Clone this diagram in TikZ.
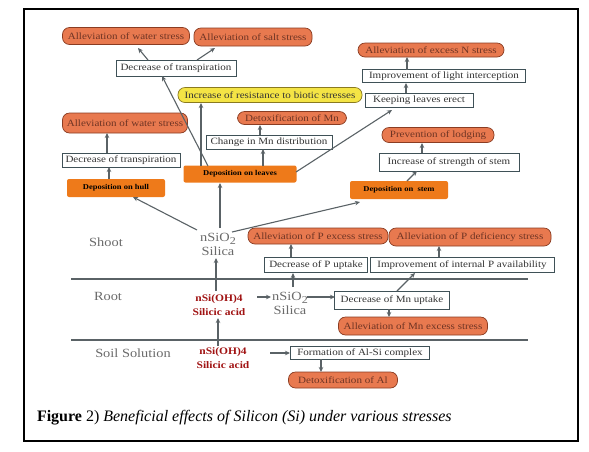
\documentclass[tikz,border=0pt]{standalone}
\usepackage{fontspec}
\setmainfont{Liberation Serif}
\newfontfamily\bxfont{Liberation Serif}[FakeStretch=1.15]
\usetikzlibrary{arrows.meta}
\definecolor{pillfill}{HTML}{E8794F}
\definecolor{pilldraw}{HTML}{8A3C22}
\definecolor{pilltext}{HTML}{6E3424}
\definecolor{depfill}{HTML}{EE7A1A}
\definecolor{yelfill}{HTML}{F4E445}
\definecolor{yeldraw}{HTML}{8A7A20}
\definecolor{boxdraw}{HTML}{3F5157}
\definecolor{boxtext}{HTML}{333333}
\definecolor{arrcol}{HTML}{5A6266}
\definecolor{labcol}{HTML}{6A6A6A}
\definecolor{redtext}{HTML}{A01212}
\begin{document}
\begin{tikzpicture}[x=1pt,y=-1pt,
  every node/.style={inner sep=0pt, outer sep=0pt},
  txt/.style={font=\bxfont\fontsize{9.6}{11}\selectfont},
  pill/.style={txt, draw=pilldraw, fill=pillfill, text=pilltext, line width=0.7pt, rounded corners=7pt},
  ypill/.style={txt, draw=yeldraw, fill=yelfill, text=boxtext, line width=0.7pt, rounded corners=7pt},
  tbox/.style={txt, draw=boxdraw, fill=white, text=boxtext, line width=0.8pt},
  dep/.style={fill=depfill, rounded corners=2pt, font=\bxfont\bfseries\fontsize{7.4}{9}\selectfont, text=black},
  lab/.style={font=\bxfont\fontsize{12.5}{14}\selectfont, text=labcol},
  sil/.style={font=\bxfont\fontsize{12.5}{14}\selectfont, text=labcol, align=center},
  acid/.style={font=\bxfont\bfseries\fontsize{10}{14}\selectfont, text=redtext, align=center},
  arr/.style={draw=arrcol, line width=1.1pt, -{Stealth[length=5pt,width=4.5pt]}},
  sep/.style={draw=arrcol, line width=1.6pt}
]
\useasboundingbox (0,0) rectangle (589,451);
\draw[line width=1.1pt] (24,9) rectangle (578,441);

% separators
\coordinate (l1a) at (71,279); \coordinate (l1b) at (528,279);
\coordinate (l2a) at (71,340); \coordinate (l2b) at (528,340);
\draw[sep] (l1a) -- (l1b);
\draw[sep] (l2a) -- (l2b);

% top-left
\node[pill, minimum width=127pt, minimum height=17pt] (A1) at (126,36) {Alleviation of water stress};
\node[pill, minimum width=118pt, minimum height=18pt] (A2) at (253,37) {Alleviation of salt stress};
\node[tbox, minimum width=120pt, minimum height=16pt] (B1) at (176,68) {Decrease of transpiration};
\node[ypill, minimum width=184pt, minimum height=15pt] (Y) at (270,95) {Increase of resistance to biotic stresses};
\node[pill, minimum width=109pt, minimum height=13pt] (A3) at (292,118) {Detoxification of Mn};
\node[tbox, minimum width=126pt, minimum height=14pt] (B2) at (269,142) {Change in Mn distribution};
\node[pill, minimum width=125pt, minimum height=20pt] (A4) at (125,123) {Alleviation of water stress};
\node[tbox, minimum width=118pt, minimum height=14pt] (B3) at (121,160) {Decrease of transpiration};
\node[dep, minimum width=98pt, minimum height=18pt] (D1) at (116,188) {Deposition on hull};
\node[dep, minimum width=113pt, minimum height=17pt] (D2) at (240,174) {Deposition on leaves};

% top-right
\node[pill, minimum width=146pt, minimum height=14pt] (A5) at (431,50) {Alleviation of excess N stress};
\node[tbox, minimum width=163pt, minimum height=13pt] (B4) at (444,76) {Improvement of light interception};
\node[tbox, minimum width=108pt, minimum height=14pt] (B5) at (419,100) {Keeping leaves erect};
\node[pill, minimum width=112pt, minimum height=15pt] (A6) at (438,135) {Prevention of lodging};
\node[tbox, minimum width=140pt, minimum height=18pt] (B6) at (449,162) {Increase of strength of stem};
\node[dep, minimum width=98pt, minimum height=18pt] (D3) at (399,190) {Deposition on\ \ stem};

% labels
\node[lab] (Lshoot) at (106,242) {Shoot};
\node[lab] (Lroot) at (108,296) {Root};
\node[lab] (Lsoil) at (133,353) {Soil Solution};

% silicon forms
\node[sil] (S1) at (218,244) {nSiO\raisebox{-3pt}{\fontsize{10.5}{11}\selectfont 2}\\Silica};
\node[acid] (R1) at (219,305) {nSi(OH)4\\Silicic acid};
\node[sil] (R2) at (290,303) {nSiO\raisebox{-3pt}{\fontsize{10.5}{11}\selectfont 2}\\Silica};
\node[acid] (So1) at (223,358) {nSi(OH)4\\Silicic acid};

% P / Mn / Al
\node[pill, minimum width=140pt, minimum height=16pt] (A7) at (318,236) {Alleviation of P excess stress};
\node[tbox, minimum width=103pt, minimum height=15pt] (B7) at (316,265) {Decrease of P uptake};
\node[pill, minimum width=162pt, minimum height=18pt] (A8) at (470,237) {Alleviation of P deficiency stress};
\node[tbox, minimum width=184pt, minimum height=15pt] (B8) at (462,265) {Improvement of internal P availability};
\node[tbox, minimum width=115pt, minimum height=18pt] (B9) at (392,300) {Decrease of Mn uptake};
\node[pill, minimum width=149pt, minimum height=18pt] (A9) at (413,326) {Alleviation of Mn excess stress};
\node[tbox, minimum width=139pt, minimum height=13pt] (B10) at (360,353) {Formation of Al-Si complex};
\node[pill, minimum width=109pt, minimum height=16pt] (A10) at (343,380) {Detoxification of Al};

% arrows
\draw[arr] ([shift={(-28,-8)}]B1.center) -- ([shift={(12,12)}]A1.center);
\draw[arr] ([shift={(21,-8)}]B1.center) -- ([shift={(-38,11)}]A2.center);
\draw[arr] ([shift={(-32,-8)}]D2.center) -- ([shift={(-14,8)}]B1.center);
\draw[arr] ([shift={(-39,-8)}]D2.center) -- ([shift={(-69,8)}]Y.center);
\draw[arr] ([shift={(23,-8)}]D2.center) -- ([shift={(-6,7)}]B2.center);
\draw[arr] ([shift={(-9,-7)}]B2.center) -- ([shift={(-32,7)}]A3.center);
\draw[arr] ([shift={(56,-2)}]D2.center) -- ([shift={(-27,10)}]B5.center);
\draw[arr] ([shift={(-7,-9)}]D1.center) -- ([shift={(-12,7)}]B3.center);
\draw[arr] ([shift={(-14,-7)}]B3.center) -- ([shift={(-18,10)}]A4.center);
\draw[arr] ([shift={(-21,-14)}]S1.center) -- ([shift={(17,9)}]D1.center);
\draw[arr] ([shift={(2,-16)}]S1.center) -- ([shift={(-20,9)}]D2.center);
\draw[arr] ([shift={(14,-12)}]S1.center) -- ([shift={(-39,12)}]D3.center);
\draw[arr] ([shift={(8,-9)}]D3.center) -- ([shift={(-32,9)}]B6.center);
\draw[arr] ([shift={(-27,-9)}]B6.center) -- ([shift={(-16,8)}]A6.center);
\draw[arr] ([shift={(-13,-7)}]B5.center) -- ([shift={(-38,7)}]B4.center);
\draw[arr] ([shift={(-37,-6)}]B4.center) -- ([shift={(-24,7)}]A5.center);
\draw[arr] ([shift={(-3,-14)}]R1.center) -- ([shift={(-2,14)}]S1.center);
\draw[arr] ([shift={(-5,-12)}]So1.center) -- ([shift={(-1,13)}]R1.center);
\draw[arr] ([shift={(38,-8)}]R1.center) -- ([shift={(-19,-6)}]R2.center);
\draw[arr] ([shift={(3,-16)}]R2.center) -- ([shift={(-23,8)}]B7.center);
\draw[arr] ([shift={(-25,-8)}]B7.center) -- ([shift={(-27,8)}]A7.center);
\draw[arr] ([shift={(17,-6)}]R2.center) -- ([shift={(-57,-3)}]B9.center);
\draw[arr] ([shift={(5,-9)}]B9.center) -- ([shift={(-47,8)}]B8.center);
\draw[arr] ([shift={(-23,-8)}]B8.center) -- ([shift={(-31,9)}]A8.center);
\draw[arr] ([shift={(-3,9)}]B9.center) -- ([shift={(-24,-9)}]A9.center);
\draw[arr] ([shift={(47,-5)}]So1.center) -- ([shift={(-70,0)}]B10.center);
\draw[arr] ([shift={(-39,6)}]B10.center) -- ([shift={(-22,-8)}]A10.center);

% caption
\node[anchor=base west, font=\fontsize{16}{18}\selectfont] (cap) at (37,421)
  {\textbf{Figure} 2) \textit{Beneficial effects of Silicon (Si) under various stresses}};
\end{tikzpicture}
\end{document}
